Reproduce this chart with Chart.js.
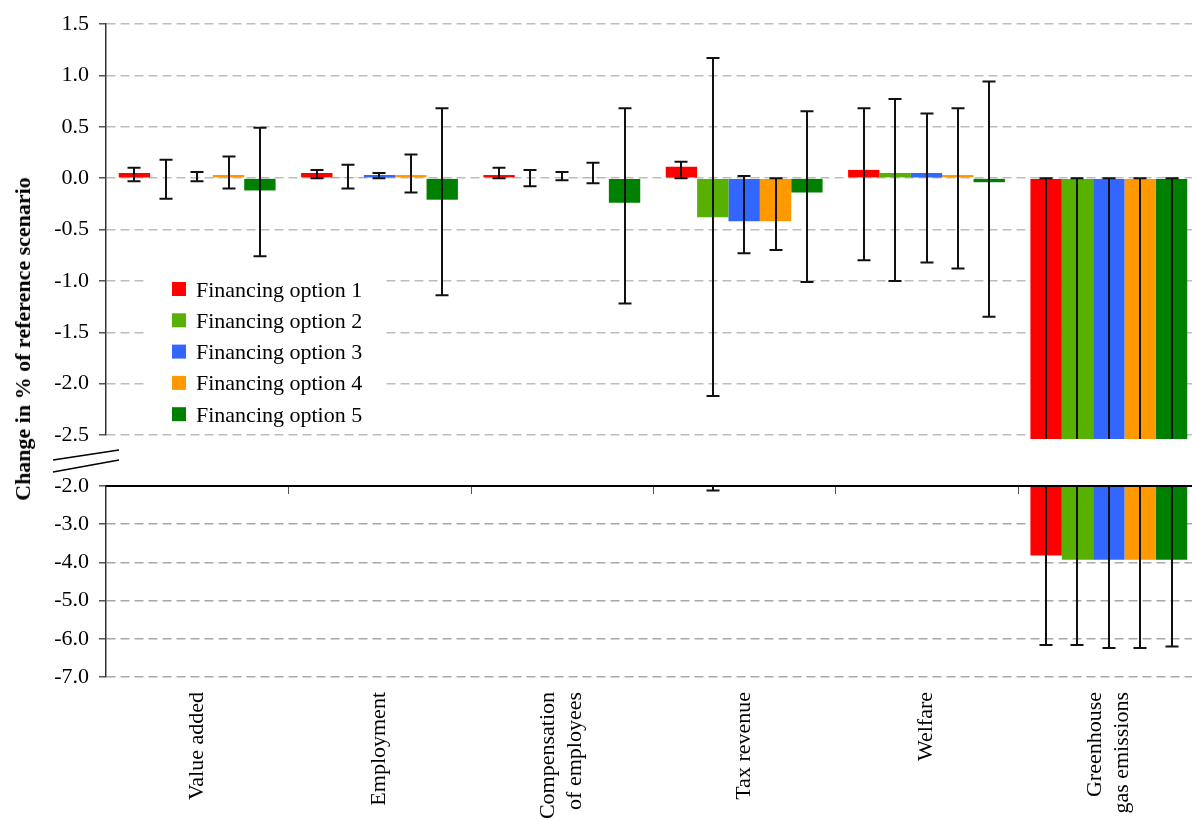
<!DOCTYPE html>
<html>
<head>
<meta charset="utf-8">
<title>Change in % of reference scenario</title>
<script src="https://cdn.jsdelivr.net/npm/chart.js@4/dist/chart.umd.min.js"></script>
<style>
  html, body { margin: 0; padding: 0; background: #fff; overflow: hidden; }
  #stage { position: relative; width: 1200px; height: 821px; }
  #stage canvas { position: absolute; left: 0; top: 0; }
  #yTitle {
    position: absolute; left: 23px; top: 339px;
    transform: translate(-50%, -50%) rotate(-90deg);
    white-space: nowrap; color: #000;
    font: bold 22px 'Liberation Serif', 'Times New Roman', serif;
  }
</style>
</head>
<body>
<div id="stage">
  <canvas id="upperPanel" width="1200" height="821"></canvas>
  <canvas id="lowerPanel" width="1200" height="821"></canvas>
  <div id="yTitle">Change in % of reference scenario</div>
</div>
<script>
// ---- data -------------------------------------------------------------
const categories = [
  'Value added',
  'Employment',
  ['Compensation', 'of employees'],
  'Tax revenue',
  'Welfare',
  ['Greenhouse', 'gas emissions']
];

const seriesNames = [
  'Financing option 1', 'Financing option 2', 'Financing option 3',
  'Financing option 4', 'Financing option 5'
];

// mean change (%) per indicator
const option1 = [0.05, 0.05, 0.03, 0.11, 0.08, -3.82];
const option2 = [0.00, 0.01, 0.00, -0.38, 0.05, -3.93];
const option3 = [0.00, 0.03, 0.00, -0.42, 0.05, -3.93];
const option4 = [0.03, 0.03, 0.01, -0.42, 0.03, -3.93];
const option5 = [-0.12, -0.21, -0.24, -0.14, -0.04, -3.93];

// upper / lower ends of the uncertainty ranges
const option1High = [0.10, 0.08, 0.10, 0.16, 0.68, 0.00];
const option1Low  = [-0.03, 0.00, 0.00, 0.00, -0.80, -6.16];
const option2High = [0.18, 0.13, 0.08, 1.17, 0.77, 0.00];
const option2Low  = [-0.20, -0.10, -0.08, -2.12, -1.00, -6.16];
const option3High = [0.06, 0.05, 0.06, 0.02, 0.63, 0.00];
const option3Low  = [-0.03, 0.00, -0.02, -0.73, -0.82, -6.24];
const option4High = [0.21, 0.23, 0.15, 0.00, 0.68, 0.00];
const option4Low  = [-0.10, -0.14, -0.05, -0.70, -0.88, -6.24];
const option5High = [0.49, 0.68, 0.68, 0.65, 0.94, 0.00];
const option5Low  = [-0.76, -1.14, -1.22, -1.01, -1.35, -6.20];

// y ticks of the two panels of the broken axis
const upperTicks = [-2.5, -2.0, -1.5, -1.0, -0.5, 0.0, 0.5, 1.0, 1.5];
const lowerTicks = [-7.0, -6.0, -5.0, -4.0, -3.0, -2.0];

const seriesColors = ['#ff0000', '#58b000', '#3366ff', '#ff9900', '#008000'];

// ---- helpers ----------------------------------------------------------
const SERIF = "'Liberation Serif', 'Times New Roman', serif";
const values = [option1, option2, option3, option4, option5];
const highs = [option1High, option2High, option3High, option4High, option5High];
const lows = [option1Low, option2Low, option3Low, option4Low, option5Low];

function buildDatasets(clipBottom) {
  return seriesNames.map((name, i) => ({
    label: name,
    data: values[i],
    errHigh: highs[i],
    errLow: lows[i],
    backgroundColor: seriesColors[i],
    borderWidth: 0,
    categoryPercentage: 0.86,
    barPercentage: 1.0,
    clip: { left: 0, top: 0, right: 0, bottom: clipBottom }
  }));
}

// whiskers for each bar, clipped to the panel
const errorBars = {
  id: 'errorBars',
  afterDatasetsDraw(chart, _args, opts) {
    const { ctx, chartArea: a } = chart;
    const y = chart.scales.y;
    ctx.save();
    ctx.beginPath();
    ctx.rect(a.left, a.top, a.right - a.left, a.bottom - a.top + (opts.overflow || 0));
    ctx.clip();
    ctx.strokeStyle = '#111';
    ctx.lineWidth = 2;
    chart.data.datasets.forEach((ds, i) => {
      chart.getDatasetMeta(i).data.forEach((bar, j) => {
        const x = Math.round(bar.x);
        const yHi = y.getPixelForValue(ds.errHigh[j]);
        const yLo = y.getPixelForValue(ds.errLow[j]);
        ctx.beginPath();
        ctx.moveTo(x, yHi); ctx.lineTo(x, yLo);
        ctx.moveTo(x - 6.5, yHi); ctx.lineTo(x + 6.5, yHi);
        ctx.moveTo(x - 6.5, yLo); ctx.lineTo(x + 6.5, yLo);
        ctx.stroke();
      });
    });
    ctx.restore();
  }
};

// boxed legend inside the upper panel
const boxLegend = {
  id: 'boxLegend',
  afterDraw(chart, _args, o) {
    const { ctx, chartArea: a } = chart;
    const x0 = a.left + o.offsetX, y0 = a.top + o.offsetY;
    ctx.save();
    ctx.fillStyle = '#fff';
    ctx.fillRect(x0, y0, o.width, o.height);
    ctx.font = '22px ' + SERIF;
    ctx.textAlign = 'left';
    ctx.textBaseline = 'alphabetic';
    chart.data.datasets.forEach((ds, i) => {
      const cy = y0 + o.firstRow + i * o.rowGap;
      ctx.fillStyle = ds.backgroundColor;
      ctx.fillRect(x0 + o.swatchX, cy - 7, 14, 14);
      ctx.fillStyle = '#000';
      ctx.fillText(ds.label, x0 + o.textX, cy + 7.5);
    });
    ctx.restore();
  }
};

// the two slanted strokes marking the axis break
const axisBreak = {
  id: 'axisBreak',
  afterDraw(chart) {
    const { ctx, chartArea: a } = chart;
    ctx.save();
    ctx.strokeStyle = '#000';
    ctx.lineWidth = 1.5;
    ctx.beginPath();
    ctx.moveTo(a.left - 53, a.bottom + 25); ctx.lineTo(a.left + 13, a.bottom + 15);
    ctx.moveTo(a.left - 53, a.bottom + 37); ctx.lineTo(a.left + 13, a.bottom + 25);
    ctx.stroke();
    ctx.restore();
  }
};

// solid category axis along the top of the lower panel, with inward ticks
const categoryAxisLine = {
  id: 'categoryAxisLine',
  afterDatasetsDraw(chart) {
    const { ctx, chartArea: a } = chart;
    const x = chart.scales.x;
    ctx.save();
    ctx.strokeStyle = '#555';
    ctx.lineWidth = 1;
    ctx.beginPath();
    for (let i = 1; i < categories.length; i++) {
      const bx = Math.round((x.getPixelForTick(i - 1) + x.getPixelForTick(i)) / 2) + 0.5;
      ctx.moveTo(bx, a.top); ctx.lineTo(bx, a.top + 8);
    }
    ctx.stroke();
    ctx.strokeStyle = '#000';
    ctx.lineWidth = 2;
    ctx.beginPath();
    ctx.moveTo(a.left, a.top); ctx.lineTo(a.right, a.top);
    ctx.stroke();
    ctx.restore();
  }
};

// vertical category names under the lower panel
const categoryNames = {
  id: 'categoryNames',
  afterDraw(chart) {
    const { ctx, chartArea: a } = chart;
    const x = chart.scales.x;
    ctx.save();
    ctx.fillStyle = '#000';
    ctx.font = '22px ' + SERIF;
    ctx.textAlign = 'right';
    ctx.textBaseline = 'middle';
    categories.forEach((label, i) => {
      const lines = Array.isArray(label) ? label : [label];
      ctx.save();
      ctx.translate(x.getPixelForTick(i), a.bottom + 15);
      ctx.rotate(-Math.PI / 2);
      lines.forEach((line, k) => {
        ctx.fillText(line, 0, (k - (lines.length - 1) / 2) * 27);
      });
      ctx.restore();
    });
    ctx.restore();
  }
};

function yScale(ticks, gridColor) {
  return {
    min: ticks[0],
    max: ticks[ticks.length - 1],
    afterBuildTicks(scale) { scale.ticks = ticks.map(v => ({ value: v })); },
    afterFit(scale) { scale.width = 106; },
    ticks: {
      color: '#000',
      padding: 10,
      font: { family: SERIF, size: 22 },
      callback: v => Number(v).toFixed(1)
    },
    grid: {
      color: gridColor,
      lineWidth: 1.5,
      tickColor: '#555',
      tickWidth: 1.5,
      tickLength: 7,
      tickBorderDash: []
    },
    border: { display: true, color: '#333', width: 1.5, dash: [9, 5] }
  };
}

const xScale = { type: 'category', display: false, offset: true };

Chart.defaults.font.family = SERIF;
Chart.defaults.color = '#000';

new Chart(document.getElementById('upperPanel'), {
  type: 'bar',
  data: { labels: categories, datasets: buildDatasets(4) },
  options: {
    responsive: false,
    animation: false,
    events: [],
    layout: { padding: { left: 0, right: 0, top: 24, bottom: 386 } },
    scales: { x: xScale, y: yScale(upperTicks, '#bdbdbd') },
    plugins: {
      legend: { display: false },
      tooltip: { enabled: false },
      errorBars: { overflow: 4 },
      boxLegend: { offsetX: 40, offsetY: 244, width: 240, height: 162, firstRow: 21, rowGap: 31.3, swatchX: 26, textX: 50 }
    }
  },
  plugins: [errorBars, boxLegend, axisBreak]
});

new Chart(document.getElementById('lowerPanel'), {
  type: 'bar',
  data: { labels: categories, datasets: buildDatasets(0) },
  options: {
    responsive: false,
    animation: false,
    events: [],
    layout: { padding: { left: 0, right: 0, top: 486, bottom: 144 } },
    scales: { x: xScale, y: yScale(lowerTicks, '#a8a8a8') },
    plugins: {
      legend: { display: false },
      tooltip: { enabled: false },
      errorBars: { overflow: 0 }
    }
  },
  plugins: [errorBars, categoryAxisLine, categoryNames]
});
</script>
</body>
</html>
